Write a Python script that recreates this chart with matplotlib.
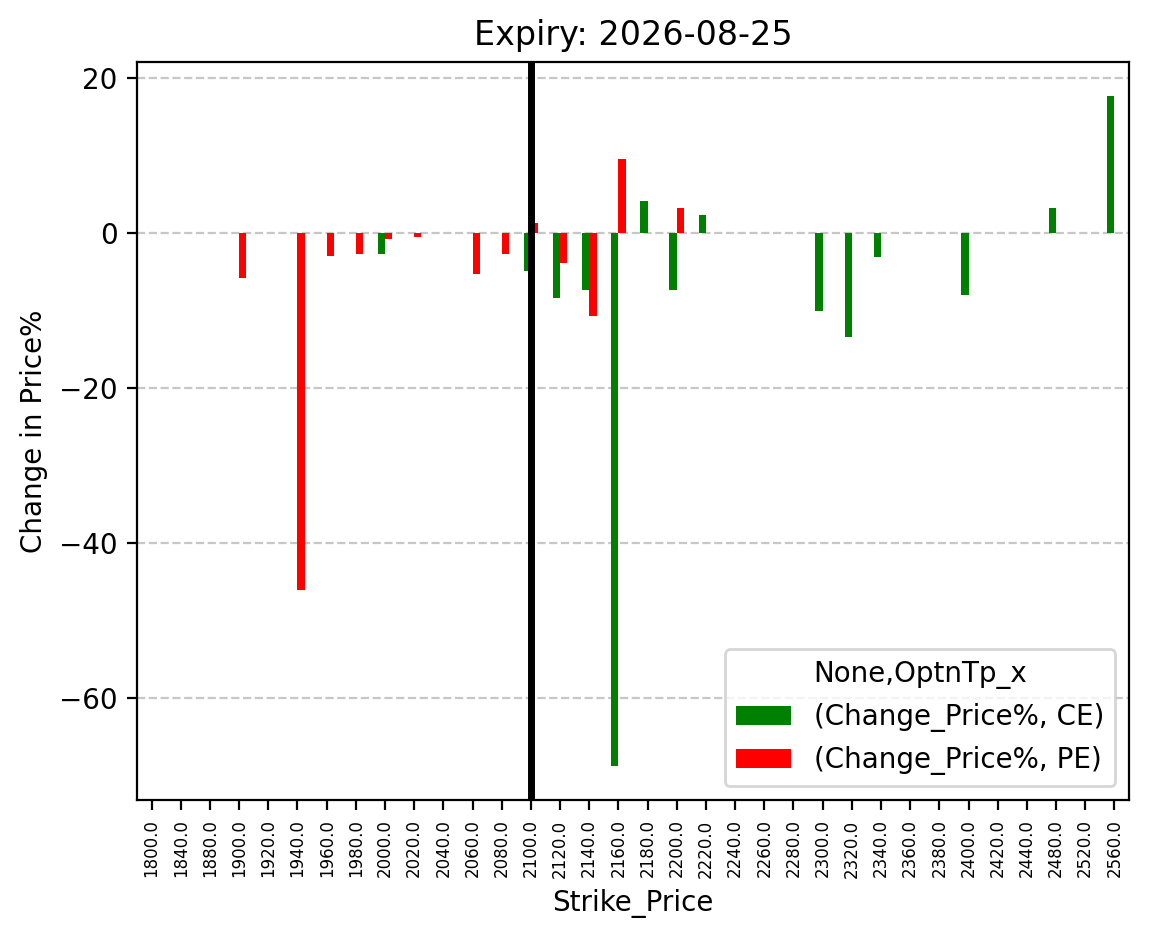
import numpy as np
import pandas as pd
import matplotlib
matplotlib.use("Agg")
import matplotlib.pyplot as plt

nan = np.nan

strikes = [1800.0, 1840.0, 1880.0, 1900.0, 1920.0, 1940.0, 1960.0, 1980.0, 2000.0,
           2020.0, 2040.0, 2060.0, 2080.0, 2100.0, 2120.0, 2140.0, 2160.0, 2180.0,
           2200.0, 2220.0, 2240.0, 2260.0, 2280.0, 2300.0, 2320.0, 2340.0, 2360.0,
           2380.0, 2400.0, 2420.0, 2440.0, 2480.0, 2520.0, 2560.0]

ce_change = [nan, nan, nan, nan, nan, nan, nan, nan, -2.7,
             nan, nan, nan, nan, -4.9, -8.4, -7.4, -68.9, 4.1,
             -7.4, 2.3, nan, nan, nan, -10.1, -13.5, -3.1, nan,
             nan, -8.0, nan, nan, 3.2, nan, 17.7]

pe_change = [nan, nan, nan, -5.9, nan, -46.1, -3.0, -2.7, -0.8,
             -0.6, nan, -5.3, -2.7, 1.3, -3.9, -10.8, 9.5, nan,
             3.2, nan, nan, nan, nan, nan, nan, nan, nan,
             nan, nan, nan, nan, nan, nan, nan]

spot_strike = 2100.0
expiry = "2026-08-25"

# pivot-like frame with MultiIndex columns, as pandas would produce
cols = pd.MultiIndex.from_tuples([("Change_Price%", "CE"), ("Change_Price%", "PE")],
                                 names=[None, "OptnTp_x"])
df = pd.DataFrame(np.column_stack([ce_change, pe_change]), columns=cols,
                  index=pd.Index(strikes, name="Strike_Price"))

fig, ax = plt.subplots(figsize=(1149 / 200, 939 / 200), dpi=200)
fig.subplots_adjust(left=137 / 1149, right=1129 / 1149, top=1 - 62 / 939, bottom=1 - 800 / 939)

df.plot(kind="bar", ax=ax, color=["green", "red"])

ax.axvline(x=strikes.index(spot_strike), color="black", linewidth=2.5)
ax.grid(axis="y", linestyle="--", alpha=0.7)
ax.set_axisbelow(True)

ax.set_title(f"Expiry: {expiry}")
ax.set_ylabel("Change in Price%")
ax.set_xlabel("Strike_Price")
ax.tick_params(axis="x", labelsize=6)
ax.legend(title="None,OptnTp_x", loc="lower right")

fig.savefig("out.png", dpi=200)
